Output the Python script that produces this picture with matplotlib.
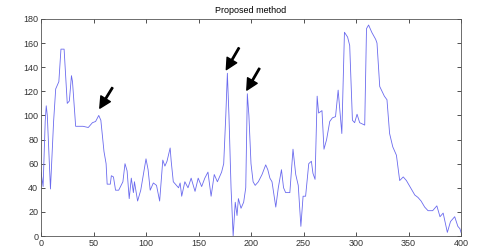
import matplotlib
matplotlib.use("Agg")
import matplotlib.pyplot as plt

x_vals = [0, 2, 4, 5, 6, 9, 12, 14, 17, 19, 22, 25, 27, 29, 30, 33, 40, 45, 49, 52,
          55, 57, 60, 62, 63, 66, 67, 69, 71, 74, 78, 80, 82, 84, 86, 88, 89, 92, 95, 100,
          102, 104, 107, 110, 113, 115, 116, 118, 120, 123, 124, 126, 129, 131, 132.5, 134, 137, 140, 143, 146.7,
          149.7, 153, 156, 159, 162, 165, 168, 172, 174, 176, 177.5, 179, 181, 183, 185, 186.7, 188, 190.5, 193, 195,
          196.5, 198, 200, 202, 204, 207, 210.5, 214, 216, 218, 220, 223.6, 226, 229, 231, 233, 237, 240, 242.6, 245,
          247.5, 249.6, 252, 255, 257.5, 259, 261, 263, 264.4, 267.6, 269.5, 272, 275, 277.5, 280.5, 283, 285, 286.5, 289, 292,
          294, 296.6, 298.7, 301, 303.5, 308.3, 310, 312, 315, 318.8, 320, 322.6, 327, 329.5, 332, 335, 338.5, 341.6, 345, 348,
          352.7, 356, 359, 362, 365.4, 368.6, 373, 377, 380, 383, 387, 390, 394, 397, 399, 400]
y_vals = [53, 41, 95, 108, 100, 39, 95, 122, 128, 155, 155, 110, 112, 133, 128, 91, 91, 90, 94, 95,
          100, 96, 70, 60, 43, 43, 50, 49, 38, 38, 45, 60, 54, 31, 48, 36, 45, 29, 38, 64,
          55, 38, 44, 42, 29, 52, 63, 58, 62, 73, 62, 45, 42, 40, 44, 33, 45, 40, 48, 37,
          48, 41, 48, 53, 33, 51, 45, 53, 60, 100, 135, 100, 40, 0, 28, 17, 31, 23, 28, 40,
          118, 100, 60, 45, 42, 45, 51, 59, 55, 48, 45, 24, 40, 55, 40, 36, 36, 72, 51, 42,
          8, 33, 33, 60, 62, 52, 47, 116, 102, 104, 72, 80, 95, 98, 99, 121, 100, 85, 169, 165,
          158, 96, 94, 101, 94, 92, 172, 175, 169, 163, 160, 124, 116, 113, 85, 74, 67, 46, 49, 46,
          39, 34, 32, 29, 24, 21, 21, 25, 16, 19, 3, 12, 16, 8, 6, 3]

title = "Proposed method"
x_ticks = [0, 50, 100, 150, 200, 250, 300, 350, 400]
y_ticks = [0, 20, 40, 60, 80, 100, 120, 140, 160, 180]

# arrows: (tip_x, tip_y, tail_x, tail_y)
arrow_tips = [(56, 106), (176.5, 138), (196, 121)]
arrow_tails = [(68, 123), (188.5, 156), (208, 139)]

plt.rcParams['font.family'] = ['Liberation Sans', 'DejaVu Sans']
fig = plt.figure(figsize=(4.84, 2.48), dpi=100)
ax = fig.add_axes([41/484, 12/248, 420/484, 217/248])
ax.plot(x_vals, y_vals, color='#6a6aee', linewidth=0.6)

for (tx, ty), (sx, sy) in zip(arrow_tips, arrow_tails):
    ax.annotate('', xy=(tx, ty), xytext=(sx, sy),
                arrowprops=dict(facecolor='black', edgecolor='black',
                                width=1.0, headwidth=8, headlength=8))

ax.set_xlim(0, 400)
ax.set_ylim(0, 180)
ax.set_xticks(x_ticks)
ax.set_yticks(y_ticks)
ax.tick_params(direction='in', length=3, width=0.6, labelsize=6.5,
               top=True, right=True, colors='#333333', pad=2)
for s in ax.spines.values():
    s.set_linewidth(0.6)
    s.set_color('#555555')
ax.set_title(title, fontsize=6.5, pad=4)
fig.savefig("out.png", dpi=100)
